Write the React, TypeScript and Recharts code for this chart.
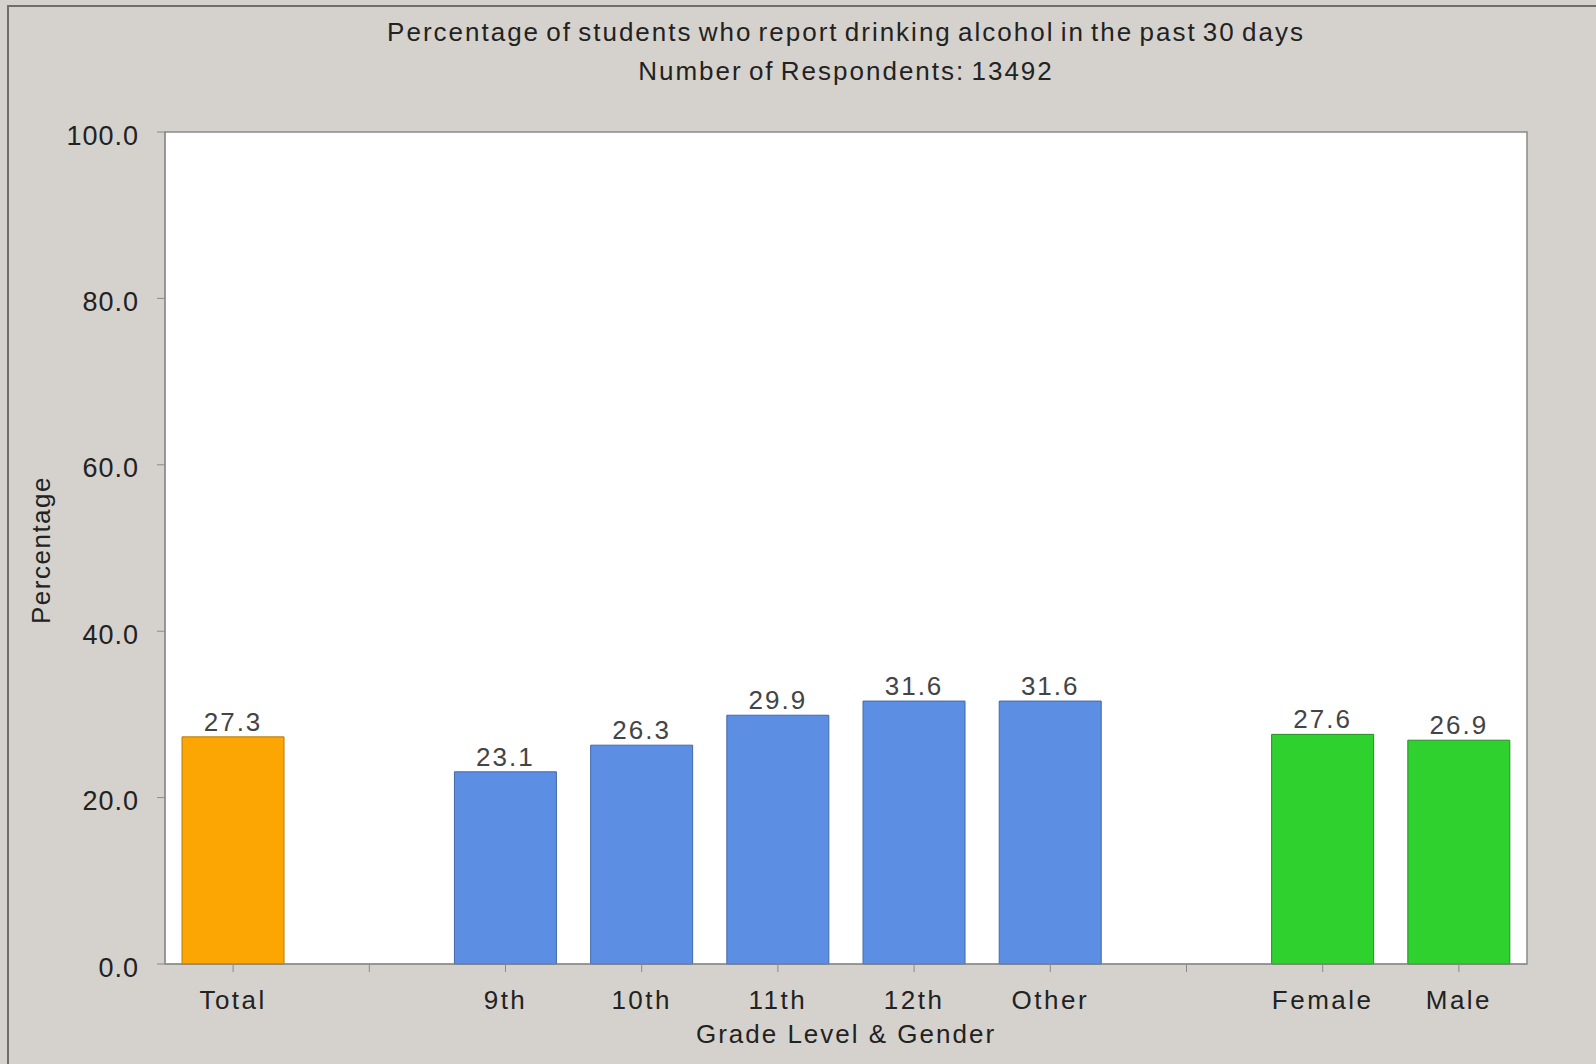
import { BarChart, Bar, XAxis, YAxis, Cell, LabelList } from 'recharts'

document.body.style.margin = '0'

// slots on the category axis; '' marks the empty spacer slots
const categories = ['Total', '', '9th', '10th', '11th', '12th', 'Other', '', 'Female', 'Male']
const percentages: (number | null)[] = [27.3, null, 23.1, 26.3, 29.9, 31.6, 31.6, null, 27.6, 26.9]
const groups = ['total', '', 'grade', 'grade', 'grade', 'grade', 'grade', '', 'gender', 'gender']
const yTicks = [0, 20, 40, 60, 80, 100]

const FILL: Record<string, string> = { total: '#fba602', grade: '#5c8ee4', gender: '#2fd12f' }
const STROKE: Record<string, string> = { total: '#b57a10', grade: '#4468a8', gender: '#2a8a2a' }

const chartData = categories.map((c, i) => ({ key: `c${i}`, name: c, value: percentages[i], group: groups[i] }))

const W = 1596
const H = 1064
const FONT = '"Liberation Sans", Arial, sans-serif'

const titleStyle = {
  position: 'absolute' as const,
  left: 165,
  width: 1362,
  textAlign: 'center' as const,
  fontSize: 26,
  lineHeight: '32px',
  letterSpacing: 2,
  wordSpacing: -3,
  whiteSpace: 'nowrap' as const,
}

export default function App() {
  return (
    <div
      style={{
        position: 'relative',
        width: W,
        height: H,
        background: '#d5d2cd',
        fontFamily: FONT,
        color: '#222',
        overflow: 'hidden',
      }}
    >
      <div style={{ position: 'absolute', left: 7, top: 5, right: 0, bottom: 0, borderLeft: '2px solid #6e6e6e', borderTop: '2px solid #6e6e6e' }} />
      <div style={{ ...titleStyle, top: 16 }}>
        Percentage of students who report drinking alcohol in the past 30 days
      </div>
      <div style={{ ...titleStyle, top: 55 }}>Number of Respondents: 13492</div>
      <div
        style={{
          position: 'absolute',
          left: 41,
          top: 550,
          transform: 'translate(-50%, -50%) rotate(-90deg)',
          fontSize: 26,
          letterSpacing: 1.5,
          whiteSpace: 'nowrap',
        }}
      >
        Percentage
      </div>
      <div style={{ position: 'absolute', left: 165, width: 1362, top: 1019, textAlign: 'center', fontSize: 26, letterSpacing: 2 }}>
        Grade Level &amp; Gender
      </div>
      <div style={{ position: 'absolute', left: 0, top: 0 }}>
        <BarChart
          width={W}
          height={H}
          data={chartData}
          margin={{ top: 132, right: 69, bottom: 0, left: 0 }}
          barCategoryGap="12.5%"
        >
          <rect x={165} y={132} width={1362} height={832} fill="#ffffff" stroke="#8a8a8a" strokeWidth={1.5} />
          <XAxis
            dataKey="key"
            tickFormatter={(_v: string, i: number) => categories[i]}
            interval={0}
            tick={{ fill: '#222', fontSize: 26, fontFamily: FONT, letterSpacing: 2.5 }}
            tickSize={8}
            tickMargin={19}
            stroke="#8a8a8a"
            height={100}
          />
          <YAxis
            domain={[0, 100]}
            ticks={yTicks}
            tickFormatter={(v: number) => v.toFixed(1)}
            tick={{ fill: '#222', fontSize: 27, fontFamily: FONT, letterSpacing: 1, dy: 3 }}
            tickSize={8}
            tickMargin={18}
            stroke="#8a8a8a"
            width={165}
          />
          <Bar dataKey="value" isAnimationActive={false} strokeWidth={1}>
            {chartData.map((d) => (
              <Cell key={d.key} fill={FILL[d.group] ?? 'none'} stroke={STROKE[d.group] ?? 'none'} />
            ))}
            <LabelList
              dataKey="value"
              position="top"
              offset={6}
              formatter={(v: number | null) => (v == null ? '' : v.toFixed(1))}
              style={{ fill: '#444', fontSize: 26, fontFamily: FONT, letterSpacing: 2 }}
            />
          </Bar>
        </BarChart>
      </div>
    </div>
  )
}
